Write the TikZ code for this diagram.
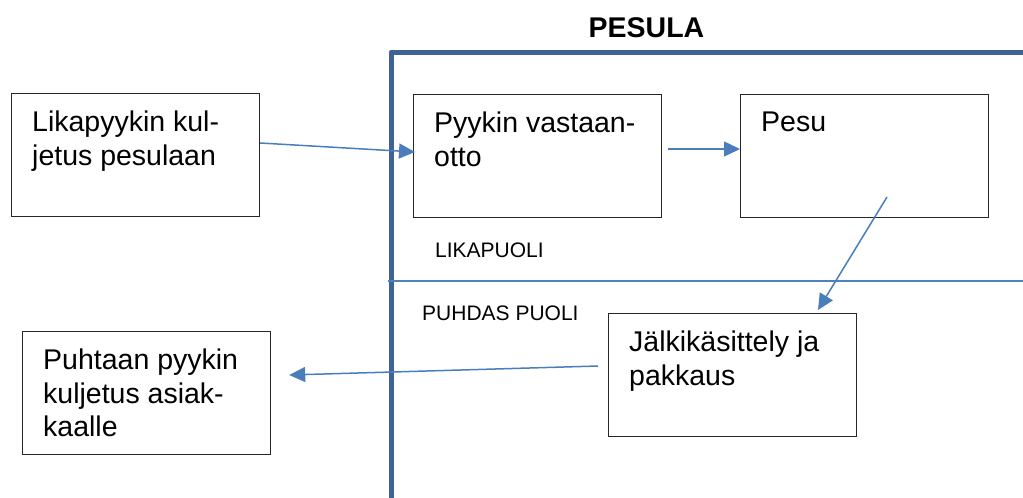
\documentclass[tikz,border=0pt]{standalone}
\usepackage{fontspec}
\setmainfont{Liberation Sans}
\usetikzlibrary{arrows.meta}
\definecolor{frameblue}{RGB}{62,99,150}
\definecolor{lineblue}{RGB}{79,129,189}
\definecolor{arrowblue}{RGB}{74,126,187}
\begin{document}
\begin{tikzpicture}[x=1pt,y=-1pt,
  box/.style={draw=black!85, line width=1.2pt, minimum width=248pt, minimum height=123pt, anchor=north west, inner sep=0pt},
  boxtext/.style={anchor=north west, align=left, inner sep=0pt, font=\fontsize{28.5}{33.5}\selectfont},
  small/.style={anchor=base west, inner sep=0pt, font=\fontsize{21}{24}\selectfont},
  arr/.style={draw=arrowblue, line width=1.5pt, -{Triangle[length=16pt,width=15pt]}}]
\useasboundingbox (0,0) rectangle (1023,498);
% frame of the laundry
\draw[frameblue, line width=5pt, line join=round] (391,498) -- (391,52) -- (1023,52);
\draw[lineblue, line width=2pt] (388,281) -- (1023,281);
\node[anchor=base, inner sep=0pt, font=\bfseries\fontsize{28.5}{33}\selectfont] (title) at (646.5,37) {PESULA};
\node[small] (likapuoli) at (435,257) {LIKAPUOLI};
\node[small] (puhdas) at (422,320) {PUHDAS PUOLI};
% boxes
\node[box] (lika) at (11,93) {};
\node[boxtext] (likat) at ([shift={(21,18)}]lika.north west) {Likapyykin kul-\\jetus pesulaan};
\node[box] (pyykin) at (413,94) {};
\node[boxtext] (pyykint) at ([shift={(21,18)}]pyykin.north west) {Pyykin vastaan-\\otto};
\node[box] (pesu) at (740,94) {};
\node[boxtext] (pesut) at ([shift={(21,18)}]pesu.north west) {Pesu};
\node[box] (jalki) at (608,313) {};
\node[boxtext] (jalkit) at ([shift={(21,18)}]jalki.north west) {Jälkikäsittely ja\\pakkaus};
\node[box] (puhtaan) at (22,331) {};
\node[boxtext] (puhtaant) at ([shift={(21,18)}]puhtaan.north west) {Puhtaan pyykin\\kuljetus asiak-\\kaalle};
% connectors
\draw[arr] ([shift={(0,50)}]lika.north east) -- ([shift={(2,58)}]pyykin.north west);
\draw[arr] ([shift={(6,55)}]pyykin.north east) -- ([shift={(0,55)}]pesu.north west);
\draw[arr] ([shift={(147,103)}]pesu.north west) -- ([shift={(210,-3)}]jalki.north west);
\draw[arr] ([shift={(-10,53)}]jalki.north west) -- ([shift={(18,44)}]puhtaan.north east);
\end{tikzpicture}
\end{document}
